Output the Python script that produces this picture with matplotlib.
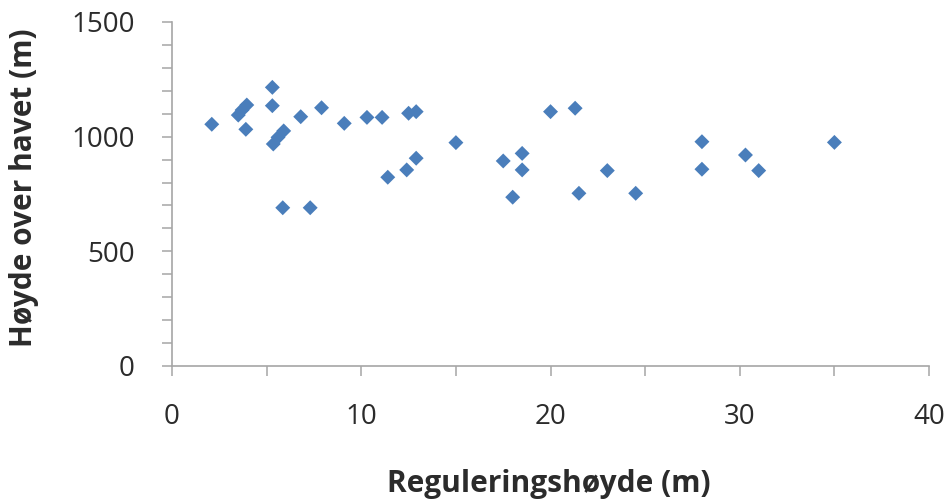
import matplotlib.pyplot as plt
from matplotlib.ticker import MultipleLocator

# Reguleringshøyde (m) vs. høyde over havet (m)
reg_height = [2.1, 3.5, 3.7, 3.95, 3.9, 5.3, 5.3, 5.35, 5.6, 5.9, 5.85, 6.8, 7.3,
              7.9, 9.1, 10.3, 11.1, 11.4, 12.4, 12.5, 12.9, 12.9, 15.0, 17.5,
              18.5, 18.5, 18.0, 20.0, 21.3, 21.5, 23.0, 24.5, 28.0, 28.0, 30.3,
              31.0, 35.0]
altitude = [1054, 1094, 1116, 1138, 1032, 1215, 1135, 968, 997, 1025, 690, 1087, 690,
            1126, 1058, 1084, 1084, 823, 855, 1102, 1109, 906, 974, 894,
            927, 855, 736, 1109, 1124, 753, 852, 753, 978, 858, 920,
            852, 975]

x_ticks = [0, 10, 20, 30, 40]
y_ticks = [0, 500, 1000, 1500]

axis_grey = '#a6a6a6'
text_col = '#2b2b2b'

fig = plt.figure(figsize=(9.51, 5.01), dpi=100)
ax = fig.add_axes([0.1809, 0.2695, 0.7960, 0.6866])

ax.scatter(reg_height, altitude, marker='D', s=58, color='#4a7ebb',
           edgecolors='none', zorder=3, clip_on=False)

ax.set_xlim(0, 40)
ax.set_ylim(0, 1500)
ax.set_xticks(x_ticks)
ax.set_yticks(y_ticks)
ax.xaxis.set_minor_locator(MultipleLocator(5))
ax.yaxis.set_minor_locator(MultipleLocator(100))

for side in ['top', 'right']:
    ax.spines[side].set_visible(False)
for side in ['left', 'bottom']:
    ax.spines[side].set_color(axis_grey)
    ax.spines[side].set_linewidth(1.2)

ax.tick_params(axis='both', which='both', direction='out', length=7,
               width=1.1, color=axis_grey, labelcolor=text_col,
               labelsize=20)
ax.tick_params(axis='y', which='major', pad=20)
ax.tick_params(axis='x', which='major', pad=20)
for lab in ax.get_xticklabels() + ax.get_yticklabels():
    lab.set_family('Open Sans')

fig.text(549 / 951, 1 - 492 / 501, 'Reguleringshøyde (m)', fontsize=21.5,
         fontweight='bold', family='Open Sans', color=text_col,
         ha='center', va='baseline')
fig.text(24 / 951, 1 - 187.5 / 501, 'Høyde over havet (m)', fontsize=21.5,
         fontweight='bold', family='Open Sans', color=text_col,
         ha='center', va='center', rotation=90)

fig.savefig('out.png', dpi=100)
